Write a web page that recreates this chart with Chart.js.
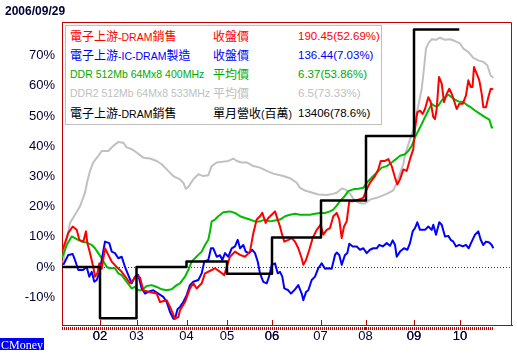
<!DOCTYPE html>
<html><head><meta charset="utf-8">
<script src="https://cdn.jsdelivr.net/npm/chart.js@4.4.0/dist/chart.umd.min.js"></script>
<style>
html,body{margin:0;padding:0;background:#fff;}
#wrap{position:relative;width:517px;height:360px;overflow:hidden;}
canvas{position:absolute;left:0;top:0;}
#title{position:absolute;left:5px;top:4px;font:bold 12px "Liberation Sans",Arial,sans-serif;color:#000033;}
#cm{position:absolute;left:0;top:338px;height:12px;line-height:12px;padding:0 1px;background:#0000ff;color:#fff;font:12px "Liberation Serif",serif;}
#leg{position:absolute;left:65px;top:25px;width:315px;height:98px;border:1px solid #c0c0c0;background:#fff;font:10.5px "Liberation Sans",sans-serif;}
.r{position:absolute;height:19px;line-height:19px;white-space:nowrap;}
.v{font-size:11.5px;}
.cj{font:12px "Noto Sans CJK TC",sans-serif;}
</style></head>
<body>
<div id="wrap">
<canvas id="c" width="517" height="360"></canvas>
<div id="title">2006/09/29</div>
<div id="leg"></div>
<div id="cm">CMoney</div>
</div>
<script>
// x unit: trading-week index along the time axis
const yearTicks=[38,74.5,124.5,165,210,258.5,303.5,352,398];
const yearLabels=['02','03','04','05','06','07','08','09','10'];
const yTicks=[-10,0,10,20,30,40,50,60,70];

const legendNames=['電子上游-DRAM銷售','電子上游-IC-DRAM製造','DDR 512Mb 64Mx8 400MHz','DDR2 512Mb 64Mx8 533MHz','電子上游-DRAM銷售'];
const legendKinds=['收盤價','收盤價','平均價','平均價','單月營收(百萬)'];
const legendValues=['190.45(52.69%)','136.44(7.03%)','6.37(53.86%)','6.5(73.33%)','13406(78.6%)'];
const legendColors=['#ff0000','#0000ff','#00aa00','#c0c0c0','#000000'];

const redX=[0,6.3,10.7,14.7,17.3,21.3,24,25.3,28,31.3,33,35.3,37.3,39.7,43,46.3,49.7,54.7,59.7,64.7,68,71.3,74.7,78,81.3,86.3,94.7,98,104.7,108,113,116.3,118,123,128,131.3,134.7,139.7,143,149.7,153,158,162.3,164.7,168,173,178,183,188,191.3,194.7,198,200.3,203.7,206.3,209.7,213,215.7,218,219.7,222.3,226.3,229.7,233,236.3,239.7,241.3,244,247.3,250.7,254.7,258.7,261.3,264.7,268,271.3,274.7,277.3,279.7,282,284.7,287.3,291.3,296.3,301.3,304.7,308,313,316.3,318.7,323,326.3,329.7,333,335.3,338,341.3,344.7,348,351.3,353,355.3,358,360.7,363,366.3,368.7,371.3,373,374.7,377,379.7,382,384.7,387.3,389.7,392,394.7,397.3,400.7,404,406.3,408.7,410.5,412,414.7,417.3,419.7,421.3,424,426.3,428.7,431.3];
const redY=[5,11.3,13.4,12.3,9,8.4,11.8,8,4.6,0,-3.2,-2.1,1.2,-0.6,6.2,4,1.8,0,-1.6,-3.8,-5.4,-4.3,-2.7,-3.5,-7.7,-8.2,-8.8,-11.6,-11,-13.2,-17.1,-16.6,-14.3,-11.6,-7.1,-5.4,-7.1,-5.4,-2.1,-1,-0.4,-1.6,-2.7,0,3.4,5.1,4,3.4,5.1,11.2,15.7,16.8,17.9,14.6,16.2,17.3,18.4,15.7,13.4,11.2,8.4,9,9.6,8.4,6.2,2.9,0.7,2.3,5.7,9.6,12.3,14,10.7,12.3,12.9,16.8,17.9,15.7,9.6,13.4,15.1,21.8,21.8,22.3,22.9,25.7,27.9,30.1,32.3,35.1,35.1,35.7,33.4,29.6,27.3,29,32.3,31.8,35.7,39,45.7,51.2,51.8,50.7,52.3,56.2,54.6,49.6,49,52.3,62.9,60.7,54.6,57.3,59,57.3,55.1,52.3,54,54,56.8,61.8,59.6,59.6,66.2,64,61.8,57.3,52.9,52.9,56.2,59,58.8];

const blueX=[1.3,6.3,10.7,13,16.3,21,24.7,27.3,29.7,32.3,34.7,37.3,39.7,43,47.3,49.7,53,56.3,59.7,63,66.3,69.7,73,76.3,79.7,83,86.3,91.3,96.3,101.3,104.7,108,111.3,113,115.5,118,121.3,124.7,128,131.3,136.3,139.7,142.3,146.3,149,151.3,154.7,158,160.3,163,166.3,169.7,173,175.7,178,181.3,183.7,187,190.3,193,195.7,198,201.3,204.7,207,209.7,213,215.7,218,220.3,222.3,226.3,229,233,236.3,239.7,241.3,244,246.3,249.7,253,256.3,259.7,263,266.3,269.7,273,274.7,277.3,279.7,283,285.3,287.3,290.7,294.7,298,301.3,304.7,308,311.3,314.7,317.3,320.7,324.7,328,330.7,333,334.7,338,342,345.3,348,350.7,353,355.3,358,363,366.3,369.7,371.3,374,377.3,379.7,383,386.3,388.7,391.3,394,397.3,400.7,404,406.7,409.7,413,416.3,418.7,421.3,424,427.3,429.7,431.3];
const blueY=[0.7,4,4.3,2.3,-1,-1,0,-3.2,-1.6,-4.9,-4.3,-2,2.3,8.4,7.9,5.1,4.6,2.9,3.4,0,-2.7,-5.4,-3.2,-2.7,-7.1,-8.8,-8.2,-7.7,-8.8,-9.9,-11.6,-14.9,-17.1,-17.1,-14,-13.2,-11.6,-9.3,-6,-4.9,-4.3,-2.1,1.8,2.3,6.2,6.2,3.4,3.9,2.3,4.6,3.4,6.2,6.8,9,6.2,7.3,5.1,4.6,5.7,4.6,1.8,-2.1,-4.9,-5.4,-3.2,0.7,1.2,-2.1,-1.6,-3.2,-7.1,-7.7,-8.8,-7.4,-6,-8.8,-11,-8.3,-7.7,-4.3,-3.2,-0.4,1.2,-0.6,-0.4,-0.6,4,4.8,4,0.7,4,4.6,7.7,6.8,6.8,5.7,6.2,4.6,5.7,6.2,6.2,7.3,6.8,7.9,7,8.8,7.3,3.4,5.1,6.2,5.7,7.9,11.8,12.9,14.8,12.3,12.3,13.4,12.3,14,10.7,14.8,14,10.1,10.3,9,8.4,6.8,7.3,6.8,7.3,6.2,8.4,10.7,11.8,9,7.3,8.4,8.1,7.3,6.2];

const greenX=[0,4.7,9.7,14.7,19.7,24.7,29.7,33,36.3,39.7,44.7,48,53,56.3,59.7,64.7,69.7,73,76.3,79.7,84.7,89.7,94.7,99.7,104.7,109.7,114.7,118,123,126.3,129.7,133,136.3,139.7,143,146.3,148,149.7,153,156.3,161.3,168,173,178,183,188,193,198,203,208,213,218,223,228,233,238,248,253,258,263,268,271.3,274.7,278,281.3,286.3,291.3,296.3,301.3,304.7,309.7,314.7,319.7,324.7,329.7,334,338,343,346.3,349.7,353,356.3,359.7,363,366.3,369.7,373,376.3,379.7,383,386.3,389.7,393,396.3,401.3,404.7,408.7,413,418,423,427.3,429.7,431.3];
const greenY=[3,7.3,10.1,9.2,8.4,8.1,7.3,6.2,4.6,2.9,0,-0.4,-0.4,-2.1,-2.7,-4.9,-7.1,-6.6,-7.7,-7.7,-6.3,-6,-6.6,-7.4,-7.7,-7.4,-6,-5.4,-3.2,-1,1.8,2.9,4,5.1,7.3,9,11.8,15.1,15.7,16.8,18.1,18.4,17.9,16.8,16.2,15.7,15.1,15.1,15.7,15.1,15.4,15.7,16.8,17.3,17.6,17.3,17.3,17.6,17.9,17.9,18.4,19,20.3,21.8,22.9,25.1,25.7,25.9,26.2,27.9,29.6,31.2,32.9,33.4,34.6,35.7,36.8,37.3,38.4,40.1,42.9,45.1,47.3,49.6,51.8,54,53.2,53.4,55.1,56.2,57,56.2,55.4,54.8,54.6,53.7,52.9,51.8,50.7,49.6,48.8,46.2,46.2];

const grayX=[1.3,4,8,13,18,23,25.3,28,31.3,36.3,39.7,46.3,51.3,56.3,61.3,64.7,69.7,74.7,81.3,88,94.7,99.7,104.7,111.3,118,121.3,123.7,126.3,131.3,136.3,141.3,146.3,149.7,154.7,159.7,166.3,171.3,174.7,179.7,184.7,191.3,198,204.7,211.3,221.3,228,234.7,238,243,248,256.3,264.7,271,274.7,279.7,283,288,291.3,294.7,299.7,303,308,314.7,324.7,331.3,334.5,338,341.3,343,346.3,351.3,356.3,359.7,362,364,366.3,369.7,374,378,383,388,393,398,401.3,406.3,411.3,416.3,421.3,425.3,428.7,431.3];
const grayY=[1.2,7.9,14.6,17.3,20.1,24.6,28.4,31.8,34.6,36.8,38.4,38.4,40.1,41.4,41.1,39.6,39,37.9,36.2,35.9,35.1,34,32.3,30.1,29,27.9,25.9,26.5,29,30.7,30.1,30.4,33.4,34.6,34.8,35.1,35.9,35.1,34.6,34.6,33.4,32.9,31.8,30.9,30.1,29.4,27.9,26.2,25.3,24.8,24,23.8,24.2,24.6,26,25.7,24.3,22.6,21.6,21,21,22.3,22.9,24.2,25.4,27.6,31,34,37,40.5,45.5,53.4,59,65.7,72.3,74,75.4,75.2,75.9,75.2,75.4,74.8,74,72.3,71.2,69.2,68.4,67.9,66.8,63.4,62.6];

const blackX=[0,38,74.5,124.5,165,210,259,304,352,397.3];
const blackY=[0,-17,0,1.8,-2.2,9.8,22,43.4,78.6,78.6];

// legend rows (HTML text); CJK runs get a CJK font
const leg=document.getElementById('leg');
function fill(el,text){
  text.split(/([\u3000-\u9fff\uff00-\uffef]+)/).forEach(part=>{
    if(!part)return;
    if(/[\u3000-\u9fff\uff00-\uffef]/.test(part)){const s=document.createElement('span');s.className='cj';s.textContent=part;el.appendChild(s);}
    else el.appendChild(document.createTextNode(part));
  });
}
legendNames.forEach((n,i)=>{
  const top=(0.5+19.25*i)+'px';
  [[n,4,''],[legendKinds[i],147,''],[legendValues[i],232,' v']].forEach(([t,l,c])=>{
    const d=document.createElement('div');d.className='r'+c;d.style.top=top;d.style.left=l+'px';
    d.style.color=legendColors[i];fill(d,t);leg.appendChild(d);
  });
});

const pts=(xs,ys)=>xs.map((x,i)=>({x:x,y:ys[i]}));
const RED='#c00000';
const frame={
  id:'frame',
  beforeDatasetsDraw(chart){
    const {ctx,chartArea:a,scales:{y}}=chart;
    const py=Math.round(y.getPixelForValue(0))+0.5;
    ctx.save();ctx.strokeStyle=RED;ctx.lineWidth=1;ctx.setLineDash([1,2]);
    ctx.beginPath();ctx.moveTo(a.left,py);ctx.lineTo(a.right,py);ctx.stroke();ctx.restore();
  },
  afterDatasetsDraw(chart){
    const {ctx,chartArea:a,scales:{x}}=chart;
    ctx.save();ctx.strokeStyle=RED;ctx.lineWidth=1;
    ctx.beginPath();
    ctx.moveTo(a.left+0.5,a.top+0.5);ctx.lineTo(a.right-0.5,a.top+0.5);ctx.lineTo(a.right-0.5,a.bottom);
    yearTicks.forEach(v=>{const px=Math.round(x.getPixelForValue(v))+0.5;ctx.moveTo(px,a.bottom);ctx.lineTo(px,a.bottom-5);});
    ctx.stroke();ctx.restore();
  }
};

new Chart(document.getElementById('c'),{
  type:'line',
  data:{datasets:[
    {data:pts(blackX,blackY),borderColor:'#000000',borderWidth:2.5,stepped:true,order:0},
    {data:pts(redX,redY),borderColor:'#ff0000',borderWidth:2,order:1},
    {data:pts(blueX,blueY),borderColor:'#0000ff',borderWidth:2,order:2},
    {data:pts(greenX,greenY),borderColor:'#00bb00',borderWidth:2,order:3},
    {data:pts(grayX,grayY),borderColor:'#c0c0c0',borderWidth:2,order:4}
  ]},
  options:{
    responsive:false,animation:false,
    layout:{padding:{left:0,right:5,top:22,bottom:0}},
    elements:{point:{radius:0,hoverRadius:0},line:{tension:0,borderJoinStyle:'round',fill:false}},
    plugins:{legend:{display:false},tooltip:{enabled:false},title:{display:false}},
    events:[],
    scales:{
      x:{type:'linear',min:0,max:450,
        afterBuildTicks:s=>{const t=[];for(let v=0;v<=431;v+=2)t.push({value:v});yearTicks.forEach(v=>t.push({value:v}));t.sort((a,b)=>a.value-b.value);s.ticks=t;},
        ticks:{autoSkip:false,maxRotation:0,minRotation:0,padding:-1,color:'#000033',font:{family:'Liberation Sans',size:13},
          callback:v=>{const i=yearTicks.indexOf(v);return i>=0?yearLabels[i]:'';}},
        grid:{drawOnChartArea:false,drawTicks:true,tickLength:5,tickColor:RED,tickWidth:1,tickBorderDash:[4,20],tickBorderDashOffset:-1},
        border:{display:true,color:RED,width:1},
        afterFit:s=>{s.height=35;}
      },
      y:{type:'linear',min:-19.2,max:81.1,
        afterBuildTicks:s=>{s.ticks=yTicks.map(v=>({value:v}));},
        grid:{display:false,drawTicks:false},
        border:{display:true,color:RED,width:1},
        ticks:{padding:7,color:'#000033',font:{family:'Liberation Sans',size:13},callback:v=>v+'%'},
        afterFit:s=>{s.width=62;}
      }
    }
  },
  plugins:[frame]
});
</script>
</body></html>
